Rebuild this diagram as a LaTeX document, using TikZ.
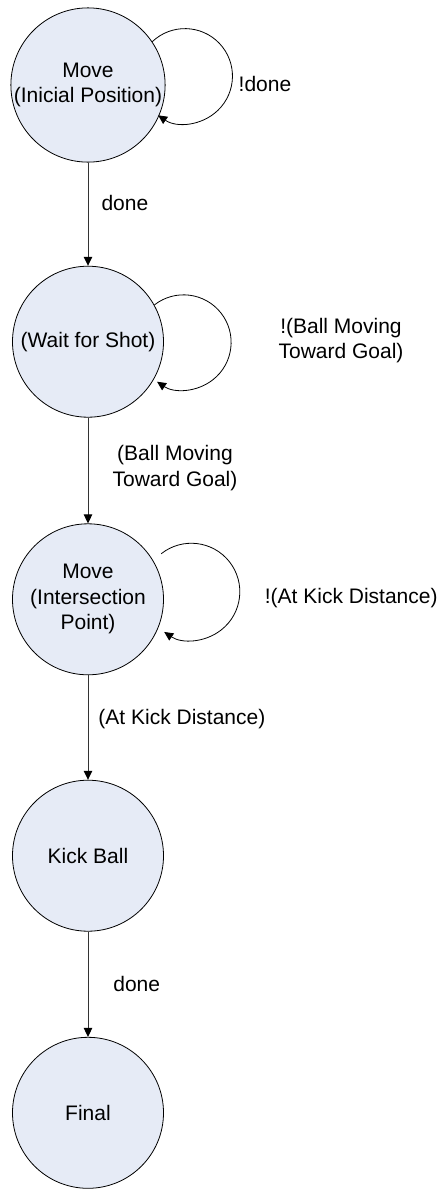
\documentclass[tikz,border=0pt]{standalone}
\usepackage{fontspec}
\setmainfont{Liberation Sans}
\usetikzlibrary{arrows.meta}

\definecolor{statefill}{HTML}{E6EBF6}

\tikzset{
  txt/.style={font=\fontsize{21bp}{25.5bp}\selectfont, inner sep=0pt, align=center},
  state/.style={txt, circle, draw=black, line width=0.8bp, fill=statefill, minimum size=151bp},
  tip/.style={-{Triangle[length=9bp, width=8.5bp, color=black]}},
  trans/.style={tip, draw=black!80, line width=1bp},
  selfloop/.style={tip, draw=black, line width=0.8bp},
  cond/.style={txt}
}

\begin{document}
\begin{tikzpicture}[x=1bp, y=1bp]
  \useasboundingbox (0,0) rectangle (442,-1190);

  % states
  \node[state] (s1) at (88,-85)     {Move\\(Inicial Position)};
  \node[state] (s2) at (88,-341.7)  {(Wait for Shot)};
  \node[state] (s3) at (88,-599.3)  {Move\\(Intersection\\Point)};
  \node[state] (s4) at (88,-855.7)  {Kick Ball};
  \node[state] (s5) at (88,-1112.8) {Final};

  % transitions between states
  \draw[trans] (s1.south) -- (s2.north);
  \draw[trans] (s2.south) -- (s3.north);
  \draw[trans] (s3.south) -- (s4.north);
  \draw[trans] (s4.south) -- (s5.north);

  % self transitions
  \draw[selfloop] (s1.34.3) arc[start angle=133.5, end angle=-124.4, radius=47.5];
  \draw[selfloop] (s2.29.5) arc[start angle=128, end angle=-124, radius=47.5];
  \draw[selfloop] ([shift={(8.9,5.4)}]s3.32.3) arc[start angle=128.3, end angle=-124, radius=48.5];

  % transition conditions
  \node[cond] (c1)  at (265,-84)    {!done};
  \node[cond] (c2)  at (124.9,-203) {done};
  \node[cond] (c3)  at (341,-340.5) {!(Ball Moving\\Toward Goal)};
  \node[cond] (c4)  at (175,-467.9) {(Ball Moving\\Toward Goal)};
  \node[cond] (c5)  at (351.2,-598) {!(At Kick Distance)};
  \node[cond] (c6)  at (181.9,-719) {(At Kick Distance)};
  \node[cond] (c7)  at (136.7,-984.3) {done};
\end{tikzpicture}
\end{document}
